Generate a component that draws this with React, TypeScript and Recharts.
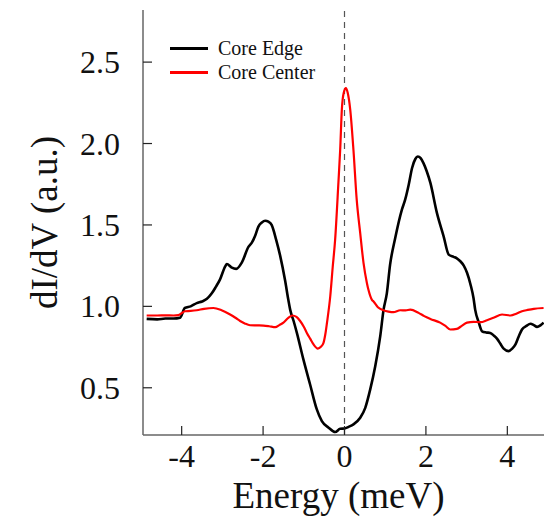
import React from 'react';
import { LineChart, Line, XAxis, YAxis, ReferenceLine, Legend } from 'recharts';

// Core Edge trace (black)
const edgeEnergy = [
  -4.86, -4.6, -4.4, -4.2, -4.04, -3.92, -3.78, -3.63, -3.5, -3.38, -3.26, -3.16, -3.06, -2.93, -2.89,
  -2.78, -2.66, -2.52, -2.36, -2.28, -2.2, -2.115, -2.03, -1.95, -1.87, -1.79, -1.68, -1.58, -1.46, -1.38,
  -1.335, -1.25, -1.17, -1.01, -0.845, -0.68, -0.556, -0.39, -0.23, -0.106, 0.0, 0.1, 0.22, 0.386, 0.51,
  0.632, 0.755, 0.878, 0.96, 1.04, 1.12, 1.246, 1.41, 1.49, 1.58, 1.66, 1.74, 1.8, 1.87, 1.94,
  2.02, 2.11, 2.27, 2.435, 2.56, 2.68, 2.76, 2.845, 2.93, 3.01, 3.1, 3.17, 3.21, 3.3, 3.38,
  3.48, 3.58, 3.67, 3.75, 3.83, 3.91, 4.03, 4.12, 4.2, 4.28, 4.36, 4.47, 4.57, 4.65, 4.73, 4.82, 4.89,
];
const edgeValues = [
  0.923, 0.92, 0.925, 0.925, 0.93, 0.99, 1.0, 1.02, 1.03, 1.046, 1.08, 1.12, 1.164, 1.246, 1.26,
  1.24, 1.23, 1.27, 1.365, 1.39, 1.43, 1.49, 1.515, 1.526, 1.52, 1.5, 1.41, 1.31, 1.16, 1.04,
  0.98, 0.91, 0.837, 0.674, 0.52, 0.367, 0.295, 0.255, 0.228, 0.248, 0.25, 0.26, 0.275, 0.316, 0.377,
  0.49, 0.632, 0.817, 0.98, 1.08, 1.256, 1.42, 1.594, 1.655, 1.75, 1.85, 1.905, 1.92, 1.91, 1.88,
  1.83, 1.758, 1.574, 1.43, 1.318, 1.304, 1.295, 1.277, 1.25, 1.206, 1.13, 1.05, 0.98, 0.9, 0.847,
  0.84, 0.837, 0.82, 0.8, 0.77, 0.74, 0.725, 0.74, 0.766, 0.815, 0.858, 0.88, 0.893, 0.885, 0.874, 0.885, 0.9,
];

// Core Center trace (red)
const centerEnergy = [
  -4.86, -4.6, -4.4, -4.2, -4.08, -3.92, -3.78, -3.63, -3.45, -3.22, -3.02, -2.81, -2.68, -2.565, -2.45,
  -2.32, -2.15, -1.99, -1.85, -1.7, -1.6, -1.5, -1.38, -1.28, -1.18, -1.09, -1.0, -0.925, -0.84, -0.76,
  -0.655, -0.58, -0.516, -0.47, -0.43, -0.35, -0.29, -0.23, -0.15, -0.106, -0.065, -0.02, 0.035, 0.08, 0.14,
  0.22, 0.3, 0.386, 0.467, 0.55, 0.59, 0.674, 0.713, 0.82, 0.96, 1.08, 1.2, 1.37, 1.5, 1.616,
  1.82, 1.96, 2.11, 2.35, 2.48, 2.6, 2.76, 2.88, 3.01, 3.17, 3.34, 3.5, 3.66, 3.87, 4.08,
  4.22, 4.36, 4.5, 4.65, 4.89,
];
const centerValues = [
  0.944, 0.944, 0.945, 0.944, 0.946, 0.97, 0.972, 0.976, 0.985, 0.99, 0.976, 0.95, 0.93, 0.91, 0.895,
  0.884, 0.883, 0.882, 0.878, 0.872, 0.885, 0.9, 0.93, 0.944, 0.935, 0.91, 0.875, 0.837, 0.8, 0.766,
  0.741, 0.752, 0.776, 0.83, 0.9, 1.062, 1.24, 1.41, 1.758, 1.962, 2.21, 2.31, 2.34, 2.31, 2.21,
  1.96, 1.655, 1.45, 1.267, 1.144, 1.1, 1.04, 1.03, 0.995, 0.976, 0.968, 0.964, 0.976, 0.975, 0.98,
  0.96, 0.94, 0.923, 0.9, 0.88, 0.858, 0.862, 0.88, 0.9, 0.905, 0.903, 0.915, 0.93, 0.95, 0.944,
  0.955, 0.97, 0.978, 0.985, 0.99,
];

const seriesNames = ['Core Edge', 'Core Center'];
const xTicks = [-4, -2, 0, 2, 4];
const yTicks = [0.5, 1.0, 1.5, 2.0, 2.5];

const edgeData = edgeEnergy.map((e, i) => ({ energy: e, value: edgeValues[i] }));
const centerData = centerEnergy.map((e, i) => ({ energy: e, value: centerValues[i] }));

const FONT = "'Liberation Serif', 'Times New Roman', serif";

const XTick = (props: any) => {
  const { x, y, payload } = props;
  return (
    <g>
      <line x1={x} y1={y} x2={x} y2={y - 9} stroke="#222" strokeWidth={1.2} />
      <text x={x} y={y + 32} textAnchor="middle" style={{ fontFamily: FONT, fontSize: 32 }} fill="#111">
        {payload.value}
      </text>
    </g>
  );
};

const YTick = (props: any) => {
  const { x, y, payload } = props;
  return (
    <g>
      <line x1={x} y1={y} x2={x + 9} y2={y} stroke="#222" strokeWidth={1.2} />
      <text x={x - 23} y={y + 11} textAnchor="end" style={{ fontFamily: FONT, fontSize: 32 }} fill="#111">
        {Number(payload.value).toFixed(1)}
      </text>
    </g>
  );
};

const renderLegend = (props: any) => {
  const items = [...(props.payload || [])].sort(
    (a: any, b: any) => seriesNames.indexOf(a.value) - seriesNames.indexOf(b.value)
  );
  return (
    <div style={{ fontFamily: FONT, fontSize: 20, color: '#111' }}>
      {items.map((p: any) => (
        <div key={p.value} style={{ display: 'flex', alignItems: 'center', height: 24 }}>
          <span style={{ display: 'inline-block', width: 38, height: 3, background: p.color, marginRight: 10 }} />
          <span>{p.value}</span>
        </div>
      ))}
    </div>
  );
};

const App: React.FC = () => {
  return (
    <div style={{ position: 'absolute', left: 0, top: 0, width: 544, height: 519, overflow: 'hidden', background: '#fff' }}>
      <LineChart width={560} height={519} margin={{ top: 10, right: 14, left: 0, bottom: 0 }}>
        <XAxis
          dataKey="energy"
          type="number"
          domain={[-4.95, 4.95]}
          ticks={xTicks}
          allowDataOverflow
          height={84}
          tickSize={0}
          tickMargin={0}
          tickLine={false}
          tick={<XTick />}
          axisLine={{ stroke: '#666', strokeWidth: 1.5 }}
          label={{
            value: 'Energy (meV)',
            position: 'insideBottom',
            offset: 11,
            dx: -6,
            fill: '#111',
            style: { fontFamily: FONT, fontSize: 37 },
          }}
        />
        <XAxis
          xAxisId="top"
          orientation="top"
          dataKey="energy"
          type="number"
          domain={[-4.95, 4.95]}
          height={0}
          tick={false}
          tickLine={false}
          axisLine={{ stroke: '#666', strokeWidth: 1.5 }}
        />
        <YAxis
          type="number"
          domain={[0.21, 2.82]}
          ticks={yTicks}
          allowDataOverflow
          width={143}
          tickSize={0}
          tickMargin={0}
          tickLine={false}
          tick={<YTick />}
          axisLine={{ stroke: '#666', strokeWidth: 1.5 }}
          label={{
            value: 'dI/dV (a.u.)',
            angle: -90,
            position: 'insideLeft',
            offset: 44,
            fill: '#111',
            style: { textAnchor: 'middle', fontFamily: FONT, fontSize: 37 },
          }}
        />
        <ReferenceLine x={0} stroke="#555" strokeWidth={1.2} strokeDasharray="6 5" />
        <Legend
          layout="vertical"
          align="center"
          verticalAlign="middle"
          content={renderLegend}
          wrapperStyle={{ left: 170, top: 36, width: 'auto' }}
        />
        <Line
          data={edgeData}
          dataKey="value"
          name="Core Edge"
          type="monotone"
          stroke="#000"
          strokeWidth={2.6}
          dot={false}
          isAnimationActive={false}
        />
        <Line
          data={centerData}
          dataKey="value"
          name="Core Center"
          type="monotone"
          stroke="#ff0000"
          strokeWidth={2.2}
          dot={false}
          isAnimationActive={false}
        />
      </LineChart>
    </div>
  );
};

export default App;
